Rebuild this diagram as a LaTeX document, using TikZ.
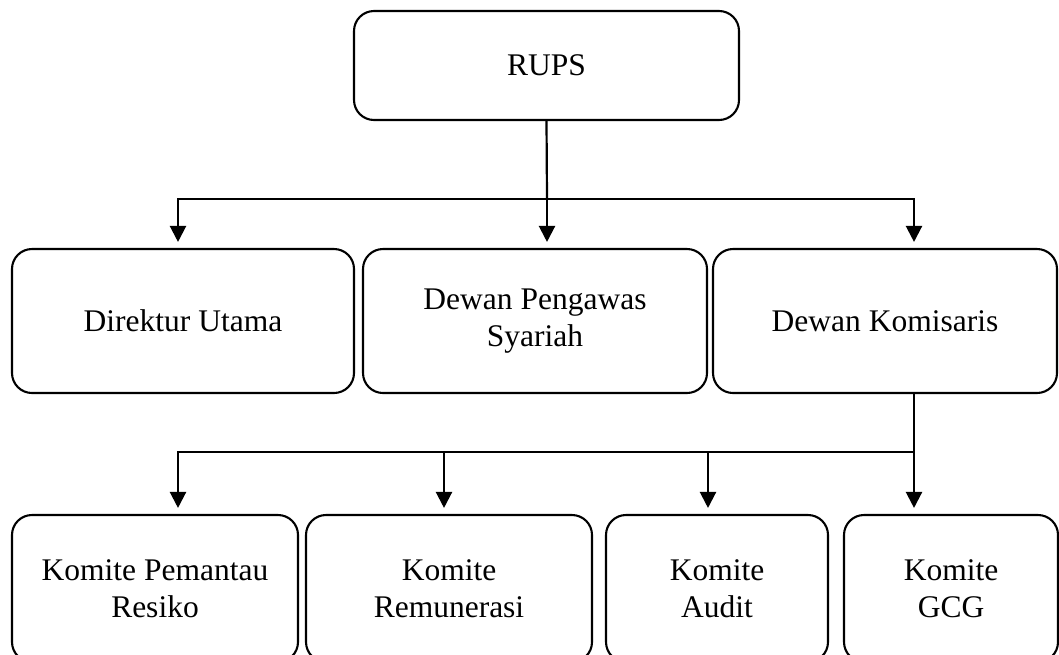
\documentclass[tikz,border=0pt]{standalone}
\usepackage{fontspec}
\setmainfont{Liberation Serif}
\usetikzlibrary{arrows.meta}
\tikzset{
  box/.style={draw, line width=2.1pt, rounded corners=20pt, inner sep=0pt, align=center,
    font=\fontsize{31.5}{37}\selectfont},
  conn/.style={line width=2.2pt},
  arr/.style={line width=2.2pt, -{Triangle[width=16pt,length=16pt]}, shorten >=6pt}
}
\begin{document}
\begin{tikzpicture}[x=1pt,y=-1pt]
\useasboundingbox (0,0) rectangle (1059,654);
\begin{scope}
\clip (0,0) rectangle (1059,654);
% top
\node[box, minimum width=385pt, minimum height=109pt] (rups) at (546.5,65.5) {RUPS};
% row 2
\node[box, minimum width=342pt, minimum height=144pt] (dir) at (183,321) {Direktur Utama};
\node[box, minimum width=344pt, minimum height=144pt] (dps) at (535,321) {Dewan Pengawas\\Syariah};
\node[box, minimum width=344pt, minimum height=144pt] (dk) at (885,321) {Dewan Komisaris};
% row 3
\node[box, minimum width=286pt, minimum height=147pt] (kpr) at (155,588.5) {Komite Pemantau\\Resiko};
\node[box, minimum width=286pt, minimum height=147pt] (rem) at (449,588.5) {Komite\\Remunerasi};
\node[box, minimum width=222pt, minimum height=147pt] (aud) at (717,588.5) {Komite\\Audit};
\node[box, minimum width=214pt, minimum height=147pt] (gcg) at (951,588.5) {Komite\\GCG};
% connectors, level 1
\coordinate (j1) at (547,199);
\draw[conn] (rups.south) -- (j1);
\draw[arr] (j1) -| ([xshift=-5pt]dir.north);
\draw[arr] (j1) -- (j1 |- dps.north);
\draw[arr] (j1) -| ([xshift=29pt]dk.north);
% connectors, level 2
\coordinate (j2) at (914,452);
\draw[conn] ([xshift=29pt]dk.south) -- (j2);
\draw[arr] (j2) -| ([xshift=23pt]kpr.north);
\draw[arr] (j2) -| ([xshift=-5pt]rem.north);
\draw[arr] (j2) -| ([xshift=-9pt]aud.north);
\draw[arr] (j2) -- (j2 |- gcg.north);
\end{scope}
\end{tikzpicture}
\end{document}
